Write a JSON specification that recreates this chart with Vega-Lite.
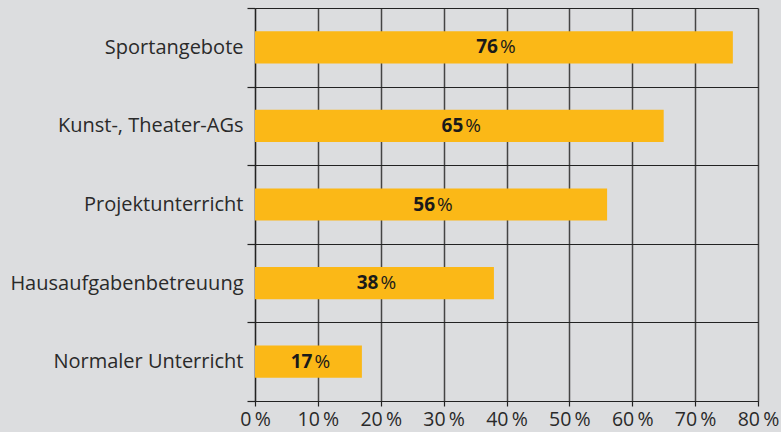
{
  "$schema": "https://vega.github.io/schema/vega-lite/v6.json",
  "width": 503,
  "height": 393,
  "autosize": "none",
  "padding": {"left": 255, "top": 8, "right": 23, "bottom": 31},
  "background": "#dcdddf",
  "config": {"view": {"stroke": null}, "font": "Open Sans"},
  "data": {"values": [
    {"cat": "Sportangebote", "v": 76},
    {"cat": "Kunst-, Theater-AGs", "v": 65},
    {"cat": "Projektunterricht", "v": 56},
    {"cat": "Hausaufgabenbetreuung", "v": 38},
    {"cat": "Normaler Unterricht", "v": 17}
  ]},
  "transform": [{"calculate": "datum.v / 2", "as": "mid"}],
  "encoding": {
    "y": {"field": "cat", "type": "nominal", "sort": null, "title": null,
      "scale": {"paddingInner": 0, "paddingOuter": 0},
      "axis": {"tickBand": "extent", "grid": true, "gridColor": "#222", "gridWidth": 1.2,
        "domainColor": "#222", "domainWidth": 1.2, "tickColor": "#222", "tickWidth": 1.2, "tickSize": 8,
        "labelFontSize": 20, "labelColor": "#2a2a2a", "labelPadding": 4, "labelLimit": 300}}
  },
  "layer": [
    {"mark": {"type": "bar", "color": "#fbb817", "height": {"band": 0.41}},
     "encoding": {"x": {"field": "v", "type": "quantitative", "title": null,
       "scale": {"domain": [0, 80], "nice": false},
       "axis": {"values": [0,10,20,30,40,50,60,70,80], "grid": true, "gridColor": "#444", "gridWidth": 1.5,
         "domainColor": "#222", "domainWidth": 1.2, "tickColor": "#222", "tickWidth": 1.2, "tickSize": 5,
         "labelFontSize": 19.5, "labelColor": "#2a2a2a", "labelPadding": 4,
         "labelExpr": "datum.label + '\u2009%'", "labelFlush": false}}}},
    {"mark": {"type": "text", "align": "right", "baseline": "middle", "fontWeight": "bold", "fontSize": 19, "color": "#1a1a1a", "dx": 4},
     "encoding": {"x": {"field": "mid", "type": "quantitative"}, "text": {"field": "v"}}},
    {"mark": {"type": "text", "align": "left", "baseline": "middle", "fontSize": 19, "color": "#1a1a1a", "dx": 6},
     "encoding": {"x": {"field": "mid", "type": "quantitative"}, "text": {"value": "%"}}}
  ]
}
